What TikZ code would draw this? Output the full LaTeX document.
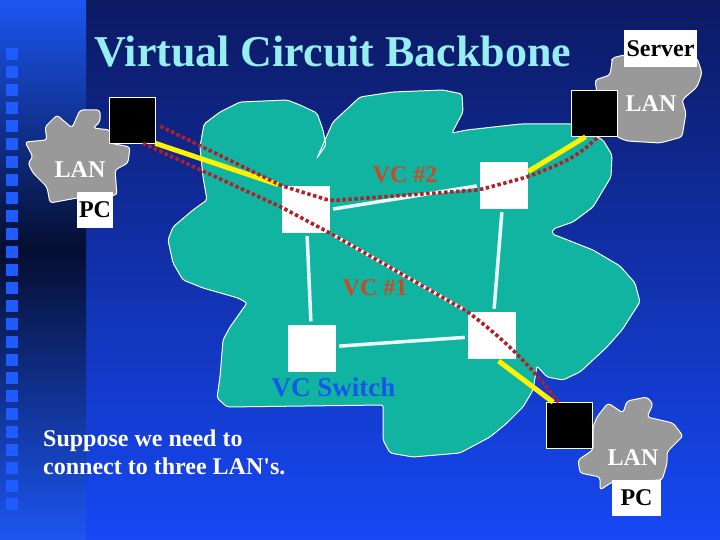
\documentclass[tikz,border=0pt]{standalone}
\usepackage{fontspec}
\setmainfont{Liberation Serif}
\usetikzlibrary{calc}
\definecolor{navytop}{RGB}{12,26,98}
\definecolor{bluebot}{RGB}{22,72,245}
\definecolor{stripdark}{RGB}{5,14,48}
\definecolor{stripbright}{RGB}{28,85,240}
\definecolor{stripsq}{RGB}{30,92,255}
\definecolor{bbteal}{RGB}{16,180,160}
\definecolor{langray}{RGB}{153,153,153}
\definecolor{titlecyan}{RGB}{150,238,240}
\definecolor{vcred}{RGB}{205,72,35}
\definecolor{vcblue}{RGB}{20,88,235}
\definecolor{dotred}{RGB}{180,30,40}
\definecolor{linkwhite}{RGB}{235,255,255}

\begin{document}
\begin{tikzpicture}[x=1pt,y=-1pt,
  router/.style={draw=white,line width=0.6pt,fill=black,minimum size=46pt,inner sep=0pt},
  switchbox/.style={fill=white,minimum width=48pt,minimum height=47pt,inner sep=0pt},
  link/.style={linkwhite,line width=3.5pt,shorten <=3pt,shorten >=3pt},
  access/.style={yellow,line width=5pt},
  vcpath/.style={dotred,line width=3.6pt,dash pattern=on 3.4pt off 2.6pt,rounded corners=6pt},
  lanlabel/.style={white,font=\fontsize{24}{28}\selectfont\bfseries,inner sep=0pt},
  tagbox/.style={fill=white,text=black,font=\fontsize{24}{28}\selectfont\bfseries,inner sep=0pt,minimum height=37pt},
  vclabel/.style={vcred,font=\fontsize{24}{28}\selectfont\bfseries,inner sep=0pt},
  lancloud/.style={fill=langray,draw=white,line width=1pt,rounded corners=3pt}]
  \useasboundingbox (0,0) rectangle (720,540);
  \shade[top color=navytop,bottom color=bluebot] (86,0) rectangle (720,540);
  \shade[top color=stripbright,bottom color=stripdark] (0,0) rectangle (86,250);
  \shade[top color=stripdark,bottom color=stripbright] (0,250) rectangle (86,540);
  \foreach \i in {0,...,25}
    \fill[stripsq] (6,{48+18*\i}) rectangle ++(12,12);

  \draw[fill=bbteal,draw=white,line width=1pt,rounded corners=2pt]
    (200,147) -- (204,124) -- (220,112) -- (240,102) -- (287,100) -- (300,105)
    -- (317,113) -- (323,130) -- (326,145) -- (317,158) -- (333,122) -- (360,97)
    -- (393,92) -- (443,90) -- (462,94) -- (463,112) -- (452,133) -- (467,130)
    -- (520,124) -- (572,124) -- (603,140) -- (612,155) -- (611,177) -- (593,207)
    -- (573,222) -- (553,229) -- (552,234) -- (560,237) -- (593,250) -- (620,266)
    -- (635,283) -- (640,302) -- (622,330) -- (607,347) -- (580,372) -- (563,380)
    -- (547,377) -- (537,366) -- (533,390) -- (523,407) -- (507,423) -- (490,437)
    -- (460,453) -- (413,457) -- (390,453) -- (383,440) -- (383,405) -- (227,407)
    -- (217,398) -- (220,377) -- (223,340) -- (230,327) -- (247,303) -- (238,298)
    -- (203,288) -- (183,280) -- (173,263) -- (168,240) -- (173,227) -- (193,210)
    -- (207,200) -- (203,177) -- cycle;

  \draw[lancloud] (57,115) -- (72,128) -- (80,110) -- (100,110) -- (100,122) -- (93,128)
    -- (110,130) -- (110,143) -- (130,147) -- (128,163) -- (115,170) -- (117,195)
    -- (77,198) -- (50,203) -- (47,187) -- (33,173) -- (28,163) -- (33,157)
    -- (25,142) -- (47,140) -- (45,127) -- cycle;
  \draw[lancloud] (612,58) -- (624,55) -- (697,58) -- (702,73) -- (697,87) -- (682,100)
    -- (686,113) -- (682,137) -- (660,143) -- (627,141) -- (617,137) -- (598,100)
    -- (595,80) -- (610,75) -- (612,62) -- cycle;
  \draw[lancloud] (608,403) -- (623,413) -- (627,401) -- (647,397) -- (653,404) -- (647,417)
    -- (673,423) -- (683,436) -- (667,452) -- (667,464) -- (662,480) -- (612,482)
    -- (600,490) -- (600,477) -- (580,473) -- (578,460) -- (593,450) -- (593,427)
    -- (597,417) -- cycle;

  \node(sw1)[switchbox] at (306,209.5) {};
  \node(sw2)[switchbox] at (504,185.5) {};
  \node(sw3)[switchbox] at (312,348) {};
  \node(sw4)[switchbox] at (492,335.5) {};
  \node(lanL)[router] at (132,120) {};
  \node(lanR)[router] at (594,113.5) {};
  \node(lanB)[router] at (569.5,425.5) {};

  \draw[link] (sw1.east) -- (sw2.west);
  \draw[link] (sw1) -- (sw3);
  \draw[link] (sw2) -- (sw4);
  \draw[link] (sw3) -- (sw4);
  \draw[link] (sw1.south east) -- (sw4.north west);

  \draw[access,shorten >=4pt] (lanL.south east) -- (sw1.north west);
  \draw[access] (sw2.30) -- (lanR.-110);
  \draw[access,shorten <=3pt] (sw4.-80) -- (lanB.125);

  \draw[vcpath] ([xshift=5pt]lanL.-15) -- (sw1.north west) -- (sw1.20) -- (sw2.190) -- (sw2.20)
    to[out=22,in=-135] (lanR.-80);
  \draw[vcpath] (lanL.-65) -- (sw1.175) -- (sw1.south east) -- (sw4.north west)
    to[out=-38,in=128] (lanB.115);

  \node(title)[titlecyan,font=\fontsize{44}{48}\selectfont\bfseries,inner sep=0pt] at (333,52) {Virtual Circuit Backbone};
  \node(vc2)[vclabel] at (405,175) {VC \#2};
  \node(vc1)[vclabel] at (375,288) {VC \#1};
  \node(swlabel)[vcblue,font=\fontsize{27}{32}\selectfont\bfseries,inner sep=0pt] at (333.5,387.5) {VC Switch};
  \node(lanLtxt)[lanlabel] at (80,169.5) {LAN};
  \node(pcL)[tagbox,minimum width=36pt,minimum height=36pt] at (95,210) {PC};
  \node(server)[tagbox,minimum width=73pt] at (660.5,48.5) {Server};
  \node(lanRtxt)[lanlabel] at (651,103.5) {LAN};
  \node(lanBtxt)[lanlabel] at (633,457.5) {LAN};
  \node(pcB)[tagbox,minimum width=49pt,minimum height=36pt] at (636.5,498) {PC};
  \node(note)[white,font=\fontsize{24}{28}\selectfont\bfseries,align=left,anchor=north west,inner sep=0pt]
    at (43,430) {Suppose we need to\\connect to three LAN\textquotesingle s.};
\end{tikzpicture}
\end{document}
